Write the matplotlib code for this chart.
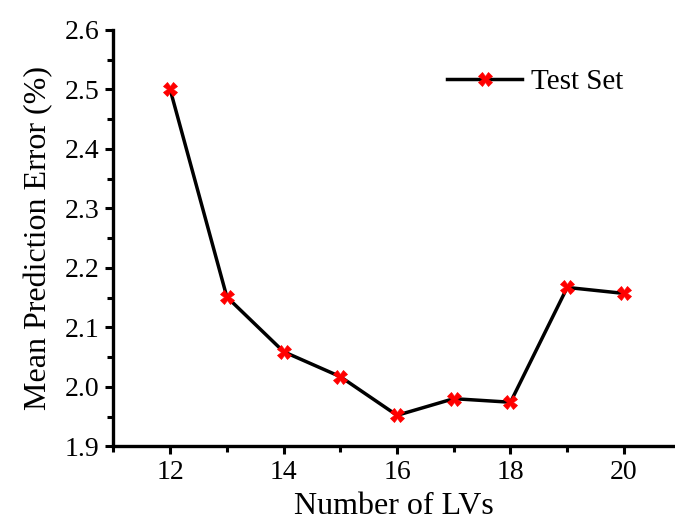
import matplotlib
matplotlib.use("Agg")
import matplotlib.pyplot as plt
from matplotlib.ticker import MultipleLocator

lvs = [12, 13, 14, 15, 16, 17, 18, 19, 20]
errors = [2.500, 2.151, 2.059, 2.017, 1.952, 1.980, 1.974, 2.167, 2.157]
series_label = "Test Set"
x_label = "Number of LVs"
y_label = "Mean Prediction Error (%)"

plt.rcParams['font.family'] = ['Liberation Serif', 'DejaVu Serif']

fig = plt.figure(figsize=(6.75, 5.25), dpi=100)
ax = fig.add_axes([0.168, 0.150, 0.832, 0.793])

ax.plot(lvs, errors, color='black', lw=2.5, marker='X', markersize=10,
        markerfacecolor='red', markeredgecolor='red', markeredgewidth=0.5,
        label=series_label)

ax.set_xlim(11, 20.9)
ax.set_ylim(1.9, 2.6)
ax.xaxis.set_major_locator(MultipleLocator(2))
ax.xaxis.set_minor_locator(MultipleLocator(1))
ax.yaxis.set_major_locator(MultipleLocator(0.1))
ax.yaxis.set_minor_locator(MultipleLocator(0.05))
ax.yaxis.set_major_formatter(plt.FormatStrFormatter('%.1f'))

for s in ['top', 'right']:
    ax.spines[s].set_visible(False)
for s in ['left', 'bottom']:
    ax.spines[s].set_linewidth(2.4)

ax.tick_params(which='major', direction='out', length=6, width=2.2, labelsize=20, pad=4)
ax.tick_params(which='minor', direction='out', length=4, width=2.2)

ax.set_xlabel(x_label, fontsize=23, labelpad=5)
ax.set_ylabel(y_label, fontsize=23, labelpad=8)

ax.legend(loc='upper right', bbox_to_anchor=(0.955, 0.97), frameon=False,
          fontsize=21, handlelength=2.6, handletextpad=0.3)

fig.savefig("out.png", dpi=100)
